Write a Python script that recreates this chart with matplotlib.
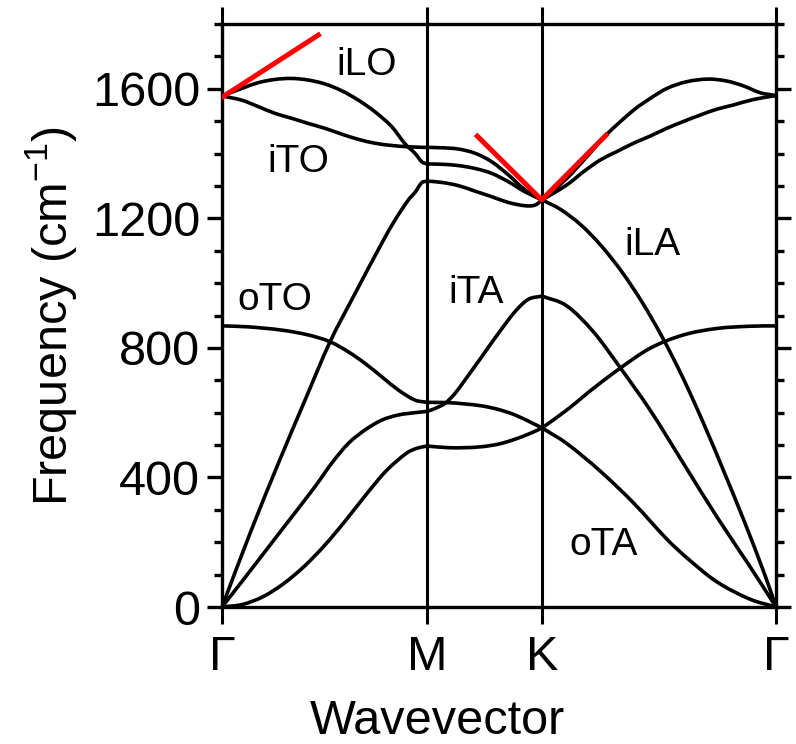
#graphene phonon dispersion along G-M-K-G
import matplotlib
matplotlib.use('Agg')
import matplotlib.pyplot as plt
from matplotlib.ticker import MultipleLocator
from matplotlib.path import Path
from matplotlib.patches import PathPatch

plt.rcParams['font.family'] = ['Liberation Sans', 'DejaVu Sans']
plt.rcParams['mathtext.fontset'] = 'custom'
plt.rcParams['mathtext.rm'] = 'Liberation Sans'

#high symmetry points (path length, G-M = 1)
kpts = [0.0, 1.0, 1.561, 2.702]
klabels = ['Γ', 'M', 'K', 'Γ']

#bands (k, frequency in cm^-1)
ilo_k = [0, 0.096, 0.177, 0.259, 0.340, 0.421, 0.502, 0.584, 0.665, 0.746, 0.828, 0.893, 0.941, 0.974, 1.0,
         1.072, 1.153, 1.234, 1.315, 1.397, 1.478, 1.561,
         1.681, 1.779, 1.873, 2.007, 2.088, 2.169, 2.267, 2.372, 2.462, 2.543, 2.624, 2.702]
ilo_f = [1578, 1601, 1619, 1629, 1632, 1627, 1615, 1594, 1565, 1529, 1483, 1430, 1401, 1375, 1368,
         1367, 1363, 1354, 1339, 1313, 1282, 1257,
         1323, 1390, 1457, 1534, 1570, 1601, 1622, 1630, 1624, 1609, 1588, 1579]

ito_k = [0, 0.096, 0.177, 0.259, 0.340, 0.421, 0.502, 0.584, 0.665, 0.746, 0.828, 0.909, 1.0,
         1.072, 1.153, 1.234, 1.315, 1.397, 1.478, 1.561,
         1.681, 1.763, 1.844, 1.925, 2.007, 2.088, 2.169, 2.250, 2.332, 2.413, 2.494, 2.592, 2.702]
ito_f = [1578, 1565, 1545, 1524, 1509, 1493, 1478, 1460, 1444, 1432, 1425, 1421, 1419,
         1418, 1414, 1401, 1375, 1334, 1288, 1257,
         1303, 1344, 1380, 1406, 1432, 1454, 1478, 1499, 1519, 1537, 1550, 1567, 1579]

ila_k = [0, 0.137, 0.275, 0.405, 0.527, 0.649, 0.779, 0.844, 0.909, 0.941, 0.974, 1.0,
         1.072, 1.153, 1.234, 1.315, 1.397, 1.478, 1.527, 1.561,
         1.65, 1.75, 1.85, 1.95, 2.05, 2.15, 2.25, 2.35, 2.45, 2.55, 2.65, 2.702]
ila_f = [0, 228, 444, 639, 819, 968, 1123, 1195, 1257, 1280, 1310, 1315,
         1311, 1301, 1284, 1267, 1249, 1239, 1241, 1257,
         1228, 1180, 1115, 1035, 940, 830, 705, 565, 415, 260, 95, 0]

oto_k = [0, 0.128, 0.291, 0.421, 0.527, 0.616, 0.698, 0.779, 0.860, 0.941, 1.0,
         1.104, 1.185, 1.267, 1.348, 1.429, 1.510, 1.561,
         1.681, 1.844, 2.006, 2.169, 2.267, 2.413, 2.576, 2.702]
oto_f = [868, 865, 855, 840, 819, 788, 752, 711, 670, 639, 632,
         631, 627, 621, 610, 593, 569, 553,
         505, 420, 322, 210, 152, 78, 24, 0]

ita_k = [0, 0.128, 0.291, 0.454, 0.535, 0.616, 0.698, 0.779, 0.860, 0.941, 1.0,
         1.039, 1.088, 1.137, 1.185, 1.267, 1.348, 1.429, 1.494, 1.561,
         1.681, 1.811, 1.941, 2.088, 2.250, 2.413, 2.576, 2.702]
ita_f = [0, 104, 238, 372, 444, 505, 547, 577, 593, 600, 604,
         613, 629, 660, 701, 773, 845, 912, 950, 960,
         930, 850, 740, 608, 444, 279, 124, 0]

ota_k = [0, 0.1, 0.2, 0.3, 0.4, 0.5, 0.6, 0.7, 0.8, 0.9, 0.95, 1.0,
         1.104, 1.185, 1.267, 1.348, 1.429, 1.510, 1.561,
         1.681, 1.811, 1.941, 2.088, 2.250, 2.413, 2.576, 2.702]
ota_f = [0, 8, 32, 72, 125, 190, 265, 345, 420, 475, 490, 497,
         492, 492, 495, 503, 518, 538, 553,
         608, 675, 737, 799, 840, 860, 867, 868]

#red slope lines (Kohn anomalies)
red1_k = [0.0, 0.47]
red1_f = [1574, 1766]
red2_k = [1.245, 1.559, 1.873]
red2_f = [1454, 1257, 1457]

#branch labels
names = ['iLO', 'iTO', 'oTO', 'iTA', 'iLA', 'oTA']
name_k = [0.706, 0.371, 0.259, 1.241, 2.10, 1.863]
name_f = [1643, 1343, 917, 939, 1087, 161]


def smooth_path(k, f):
    #cubic hermite through the read points, drawn as bezier pieces
    n = len(k)
    m = []
    for i in range(n):
        if i == 0:
            m.append((f[1] - f[0]) / (k[1] - k[0]))
        elif i == n - 1:
            m.append((f[-1] - f[-2]) / (k[-1] - k[-2]))
        else:
            m.append((f[i + 1] - f[i - 1]) / (k[i + 1] - k[i - 1]))
    verts = [(k[0], f[0])]
    codes = [Path.MOVETO]
    for i in range(n - 1):
        h = k[i + 1] - k[i]
        verts += [(k[i] + h / 3, f[i] + m[i] * h / 3),
                  (k[i + 1] - h / 3, f[i + 1] - m[i + 1] * h / 3),
                  (k[i + 1], f[i + 1])]
        codes += [Path.CURVE4] * 3
    return Path(verts, codes)


fig = plt.figure(figsize=(7.96, 7.44), dpi=100)
ax = fig.add_axes([0.2789, 0.1841, 0.6960, 0.7836])

bands = [(ilo_k, ilo_f), (ito_k, ito_f), (ila_k, ila_f), (oto_k, oto_f), (ita_k, ita_f), (ota_k, ota_f)]
for k, f in bands:
    #one smooth piece per path segment, corners allowed at M and K
    for a, b in zip(kpts[:-1], kpts[1:]):
        idx = [i for i in range(len(k)) if a - 1e-6 <= k[i] <= b + 1e-6]
        seg = smooth_path([k[i] for i in idx], [f[i] for i in idx])
        ax.add_patch(PathPatch(seg, facecolor='none', edgecolor='black', linewidth=2.6,
                               capstyle='round', joinstyle='round', zorder=3))

ax.plot(red1_k, red1_f, color='#ff0000', linewidth=3.6, zorder=4)
ax.plot(red2_k, red2_f, color='#ff0000', linewidth=3.6, zorder=4)

for kp in kpts[1:3]:
    ax.axvline(kp, color='black', linewidth=2.2, zorder=2)

for n, k, f in zip(names, name_k, name_f):
    ax.text(k, f, n, fontsize=28, ha='center', va='baseline')

ax.set_xlim(kpts[0], kpts[-1])
ax.set_ylim(0, 1800)
ax.set_xticks(kpts)
ax.set_xticklabels(klabels)
ax.set_yticks([0, 400, 800, 1200, 1600])
ax.yaxis.set_minor_locator(MultipleLocator(100))

for s in ax.spines.values():
    s.set_linewidth(2.4)

ax.tick_params(axis='x', direction='out', top=True, length=12, width=2.2, pad=8, labelsize=35)
ax.tick_params(axis='y', which='both', direction='out', left=True, right=True, width=2.4, labelsize=35, pad=5)
ax.tick_params(axis='y', which='major', length=10.8)
ax.tick_params(axis='y', which='minor', length=6)

ax.set_xlabel('Wavevector', fontsize=35)
ax.set_ylabel('Frequency (cm$^{\\mathregular{-1}}$)', fontsize=35)
ax.xaxis.set_label_coords(0.388, -0.158)
ax.yaxis.set_label_coords(-0.258, 0.5)

fig.savefig('out.png', dpi=100)
